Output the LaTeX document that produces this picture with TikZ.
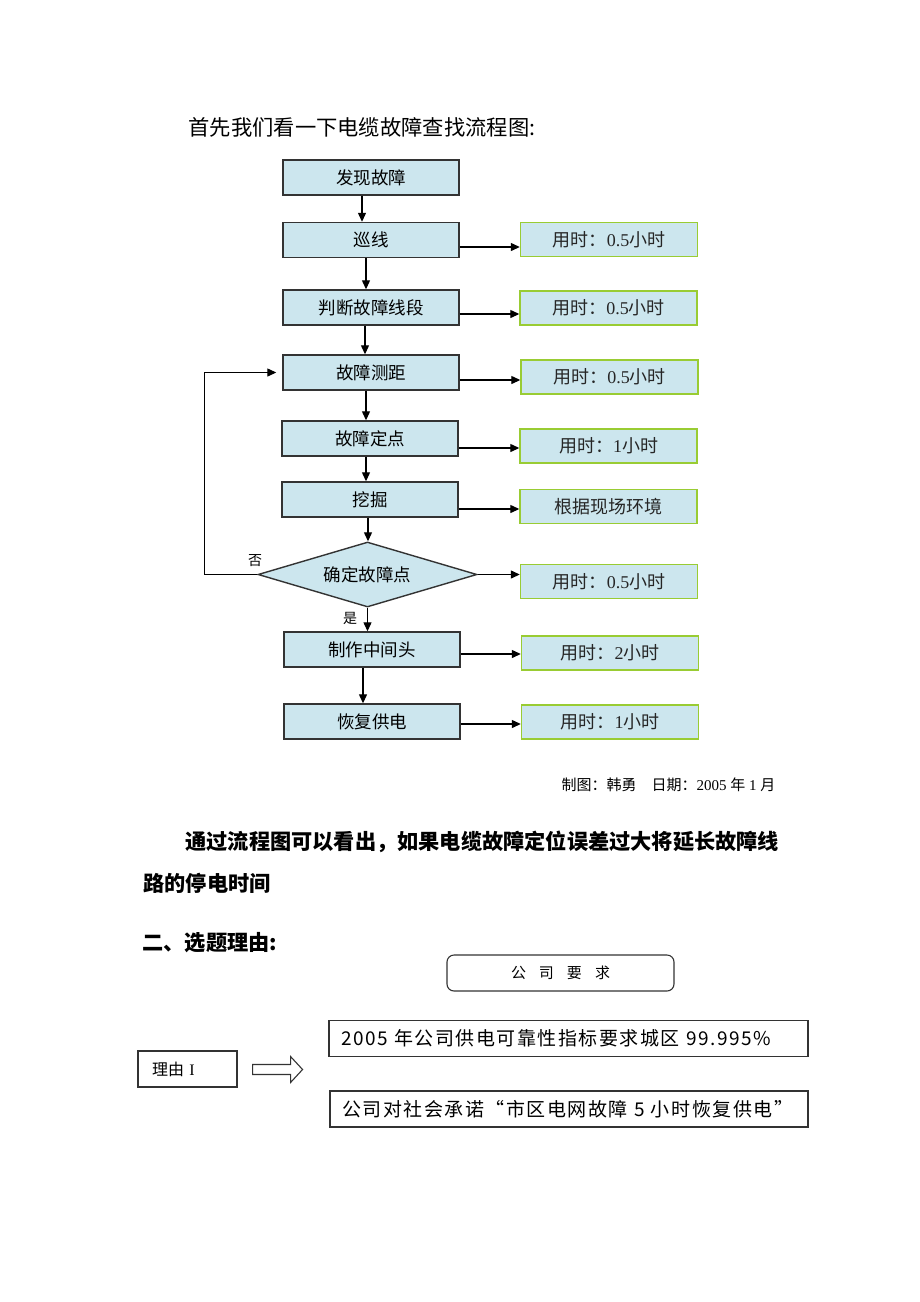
\documentclass[tikz,border=0pt]{standalone}
\usepackage{fontspec}
\setmainfont{Liberation Serif}
\newfontfamily\hei{Noto Sans CJK SC}
\newfontfamily\heiwide[LetterSpace=8]{Noto Sans CJK SC}
\usetikzlibrary{arrows.meta}
\usetikzlibrary{shapes.geometric}
\definecolor{boxfill}{RGB}{204,230,238}
\definecolor{boxgreen}{RGB}{153,204,51}
\newcommand{\usetime}[1]{{\hei 用时：}#1{\hei 小时}}
\tikzset{
  >={Triangle[length=9pt,width=8pt]},
  procbox/.style={draw=black!80,line width=1.4pt,fill=boxfill,minimum width=176pt,minimum height=35pt,inner sep=0pt,font=\hei\fontsize{17.5pt}{20pt}\selectfont},
  timebox/.style={draw=boxgreen,line width=1.4pt,fill=boxfill,minimum width=177pt,minimum height=34pt,inner sep=0pt,text=black!85,font=\fontsize{18pt}{20pt}\selectfont},
  decbox/.style={diamond,aspect=3.37,draw=black!80,line width=1.4pt,fill=boxfill,minimum width=219pt,minimum height=65pt,inner sep=0pt,font=\hei\fontsize{17.5pt}{20pt}\selectfont},
  flowline/.style={draw=black,line width=1.2pt},
  notebox/.style={draw=black!80,line width=1.1pt,minimum height=36pt,align=left},
  small/.style={font=\hei\fontsize{14pt}{16pt}\selectfont}
}

\begin{document}
\begin{tikzpicture}[x=1pt,y=-1pt]
  \fill[white] (0,0) rectangle (920,1302);
  \useasboundingbox (0,0) rectangle (920,1302);
  \node (title) at (185,127) [anchor=west,font=\hei\fontsize{21.3pt}{24pt}\selectfont] {首先我们看一下电缆故障查找流程图:};
  % flow steps
  \node (L1) at (371,177.5) [procbox] {发现故障};
  \node (L2) at (371,240) [procbox] {巡线};
  \node (L3) at (371,307.5) [procbox] {判断故障线段};
  \node (L4) at (371,372.5) [procbox] {故障测距};
  \node (L5) at (370,438.5) [procbox] {故障定点};
  \node (L6) at (370,499.5) [procbox] {挖掘};
  \node (D7) at (367.5,574.5) [decbox] {确定故障点};
  \node (L8) at (372,649.5) [procbox] {制作中间头};
  \node (L9) at (372,721.5) [procbox] {恢复供电};
  % times
  \node (T2) at (609,239.5) [timebox] {\usetime{0.5}};
  \node (T3) at (608.5,308) [timebox] {\usetime{0.5}};
  \node (T4) at (609.5,377) [timebox] {\usetime{0.5}};
  \node (T5) at (608.5,446) [timebox] {\usetime{1}};
  \node (T6) at (608.5,506.5) [timebox] {{\hei 根据现场环境}};
  \node (T7) at (609,581.5) [timebox] {\usetime{0.5}};
  \node (T8) at (610,653) [timebox] {\usetime{2}};
  \node (T9) at (610,722) [timebox] {\usetime{1}};
  \draw[flowline,->] ([xshift=-9pt]L1.south) coordinate (v1) -- (v1 |- L2.north);
  \draw[flowline,->] ([xshift=-5pt]L2.south) coordinate (v2) -- (v2 |- L3.north);
  \draw[flowline,->] ([xshift=-6pt]L3.south) coordinate (v3) -- (v3 |- L4.north);
  \draw[flowline,->] ([xshift=-5pt]L4.south) coordinate (v4) -- (v4 |- L5.north);
  \draw[flowline,->] ([xshift=-4pt]L5.south) coordinate (v5) -- (v5 |- L6.north);
  \draw[flowline,->] ([xshift=-2pt]L6.south) coordinate (v6) -- (v6 |- D7.north);
  \draw[flowline,->] (D7.south) -- (D7.south |- L8.north);
  \draw[flowline,->] ([xshift=-9pt]L8.south) coordinate (v8) -- (v8 |- L9.north);
  \draw[flowline,->] ([yshift=-7pt]L2.east) coordinate (h2) -- (h2 -| T2.west);
  \draw[flowline,->] ([yshift=-6.5pt]L3.east) coordinate (h3) -- (h3 -| T3.west);
  \draw[flowline,->] ([yshift=-7.5pt]L4.east) coordinate (h4) -- (h4 -| T4.west);
  \draw[flowline,->] ([yshift=-9.5pt]L5.east) coordinate (h5) -- (h5 -| T5.west);
  \draw[flowline,->] ([yshift=-9.5pt]L6.east) coordinate (h6) -- (h6 -| T6.west);
  \draw[flowline,->] (D7.east) -- (D7.east -| T7.west);
  \draw[flowline,->] ([yshift=-4.5pt]L8.east) coordinate (h8) -- (h8 -| T8.west);
  \draw[flowline,->] ([yshift=-2.5pt]L9.east) coordinate (h9) -- (h9 -| T9.west);
  \draw[flowline,->] (D7.west) -- ++(-53,0) |- ([xshift=-6pt]L4.west);
  \node (no)  at (255,561) [small] {否};
  \node (yes) at (350,618) [small] {是};
  \node (credit) at (779,785) [anchor=east,font=\fontsize{15pt}{18pt}\selectfont] {{\hei 制图：韩勇　日期：}2005 {\hei 年} 1 {\hei 月}};
  % text below the chart
  \node (para1) at (182,842) [anchor=west,font=\hei\bfseries\fontsize{21.2pt}{24pt}\selectfont] {通过流程图可以看出，如果电缆故障定位误差过大将延长故障线};
  \node (para2) at (140,883) [anchor=west,font=\hei\bfseries\fontsize{21.2pt}{24pt}\selectfont] {路的停电时间};
  \node (head2) at (139,943) [anchor=west,font=\hei\bfseries\fontsize{21.2pt}{24pt}\selectfont] {二、选题理由:};
  \node (demand) at (560.5,973) [draw=black!80,line width=1.1pt,rounded corners=7pt,minimum width=227pt,minimum height=36pt,font=\hei\fontsize{15pt}{18pt}\selectfont] {公\hspace{13pt}司\hspace{13pt}要\hspace{13pt}求};
  \node (reason) at (187.5,1069) [notebox,minimum width=99pt,text width=71pt,inner xsep=14pt,font=\fontsize{16pt}{18pt}\selectfont] {{\hei 理由} I};
  \node (req1) at (568.5,1038.5) [notebox,minimum width=479pt,text width=455pt,inner xsep=12pt,font=\heiwide\fontsize{19pt}{22pt}\selectfont] {2005 年公司供电可靠性指标要求城区 99.995\%};
  \node (req2) at (569,1109) [notebox,minimum width=478pt,text width=454pt,inner xsep=12pt,font=\heiwide\fontsize{19pt}{22pt}\selectfont] {公司对社会承诺“市区电网故障 5 小时恢复供电”};
  % hollow arrow
  \draw[draw=black!80,line width=1.1pt] ([xshift=15pt,yshift=-0.5pt]reason.east) ++(0,-5) -- ++(38,0) -- ++(0,-8) -- ++(12,13) -- ++(-12,13) -- ++(0,-8) -- ++(-38,0) -- cycle;
\end{tikzpicture}
\end{document}
